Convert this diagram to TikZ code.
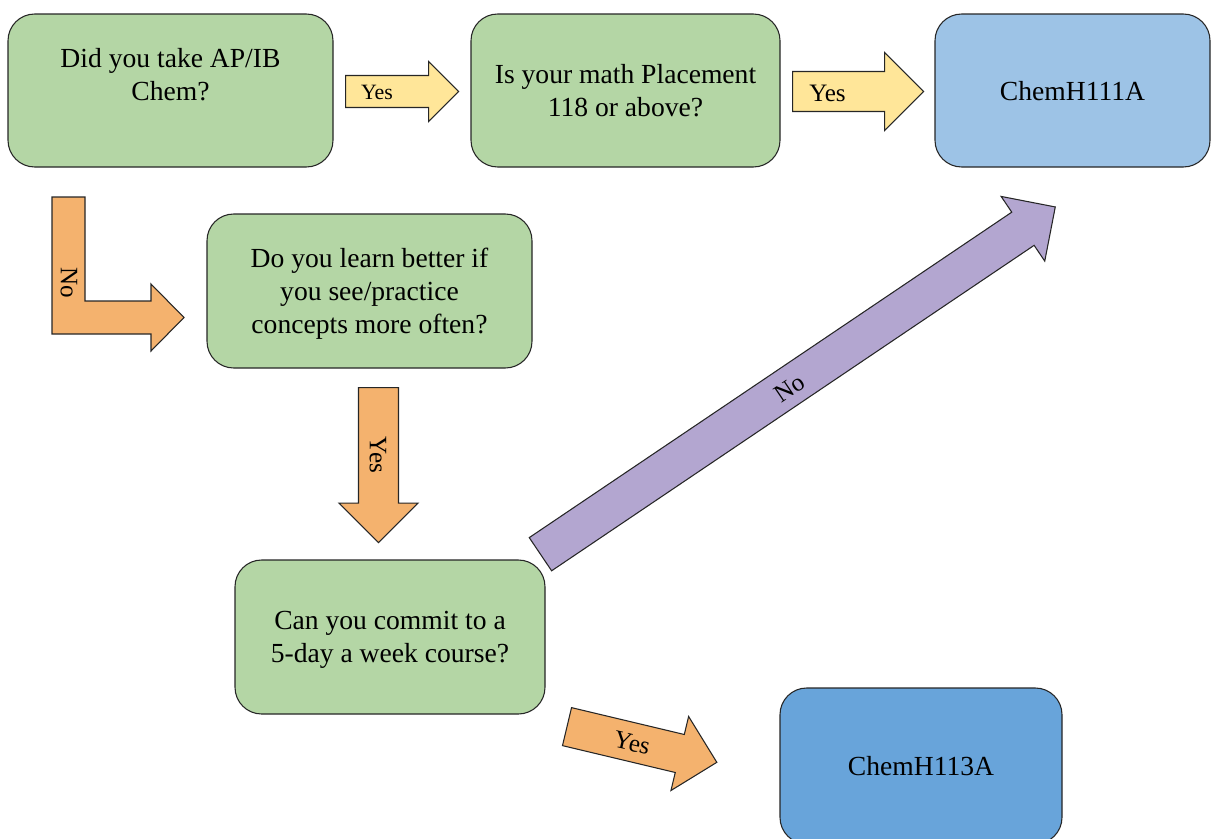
\documentclass[tikz,border=0pt]{standalone}
\usepackage{fontspec}
\setmainfont{Liberation Serif}
\usetikzlibrary{shapes.arrows}
\definecolor{qgreen}{HTML}{B4D6A5}
\definecolor{lblue}{HTML}{9DC3E6}
\definecolor{dblue}{HTML}{68A4DA}
\definecolor{ayellow}{HTML}{FFE699}
\definecolor{aorange}{HTML}{F4B26E}
\definecolor{apurple}{HTML}{B3A6D0}

\begin{document}
\begin{tikzpicture}[x=0.75pt, y=-0.75pt,
		every node/.style={inner sep=0pt},
		question/.style={draw=black!85, fill=qgreen, line width=0.8pt, rounded corners=20pt,
			align=center, font=\fontsize{20.7}{24.75}\selectfont, text depth=-11pt},
		course/.style={question, fill=lblue, text depth=-3pt},
		blockarrow/.style={single arrow, draw=black!85, line width=0.8pt, anchor=tail, inner xsep=0pt},
		arrowtext/.style={font=\fontsize{18.8}{20}\selectfont}]
			\useasboundingbox (0,0) rectangle (1211,839);
			\clip (0,0) rectangle (1211,839);

			\node[question, text depth=-6pt, minimum width=243.75pt, minimum height=114.75pt] (APIB) at (170.5,90.5) {Did you take AP/IB\\Chem?\\\strut};
			\node[question, minimum width=231.75pt, minimum height=114.75pt] (Math) at (625.5,90.5) {Is your math Placement\\118 or above?};
			\node[course, minimum width=206.25pt, minimum height=114.75pt] (H111) at (1072.5,90.5) {ChemH111A};
			\node[question, minimum width=243.75pt, minimum height=115.5pt] (Often) at (369.5,291) {Do you learn better if\\you see/practice\\concepts more often?};
			\node[question, minimum width=232.5pt, minimum height=115.5pt] (Commit) at (390,637) {Can you commit to a\\5-day a week course?};
			\node[course, fill=dblue, minimum width=211.5pt, minimum height=117pt] (H113) at (921,766) {ChemH113A};

			\node[blockarrow, fill=ayellow, minimum height=84.75pt, inner ysep=11.6pt, single arrow head extend=10.5pt] (YesA) at (345,91.5) {};
			\node[blockarrow, fill=ayellow, minimum height=98.25pt, inner ysep=14.6pt, single arrow head extend=14.25pt] (YesB) at (792,91.5) {};
			\node[blockarrow, fill=aorange, rotate=-90, minimum height=116.25pt, inner ysep=14.6pt, single arrow head extend=14.6pt] (YesC) at (378.5,387) {};
			\node[blockarrow, fill=apurple, rotate=34, minimum height=465.75pt, inner ysep=14.6pt, single arrow head extend=14.25pt] (NoB) at (540,554.5) {};
			\node[blockarrow, fill=aorange, rotate=-13.4, minimum height=115.5pt, inner ysep=14.25pt, single arrow head extend=13.9pt] (YesD) at (566.5,726.5) {};
			\draw[fill=aorange, draw=black!85, line width=0.8pt] (52,197) -- (85,197) -- (85,301) -- (151,301) -- (151,284)
				-- (184,317.5) -- (151,351) -- (151,334) -- (52,334) -- cycle;

			\node[arrowtext, font=\fontsize{16.4}{18}\selectfont] (tYesA) at (377,92) {Yes};
			\node[arrowtext] (tYesB) at (827.5,93) {Yes};
			\node[arrowtext, rotate=-90] (tYesC) at (378,455) {Yes};
			\node[arrowtext, rotate=-90] (tNoA) at (69,282.5) {No};
			\node[arrowtext, rotate=34] (tNoB) at (790,388) {No};
			\node[arrowtext, rotate=-13.4] (tYesD) at (632,743) {Yes};
		\end{tikzpicture}
\end{document}
